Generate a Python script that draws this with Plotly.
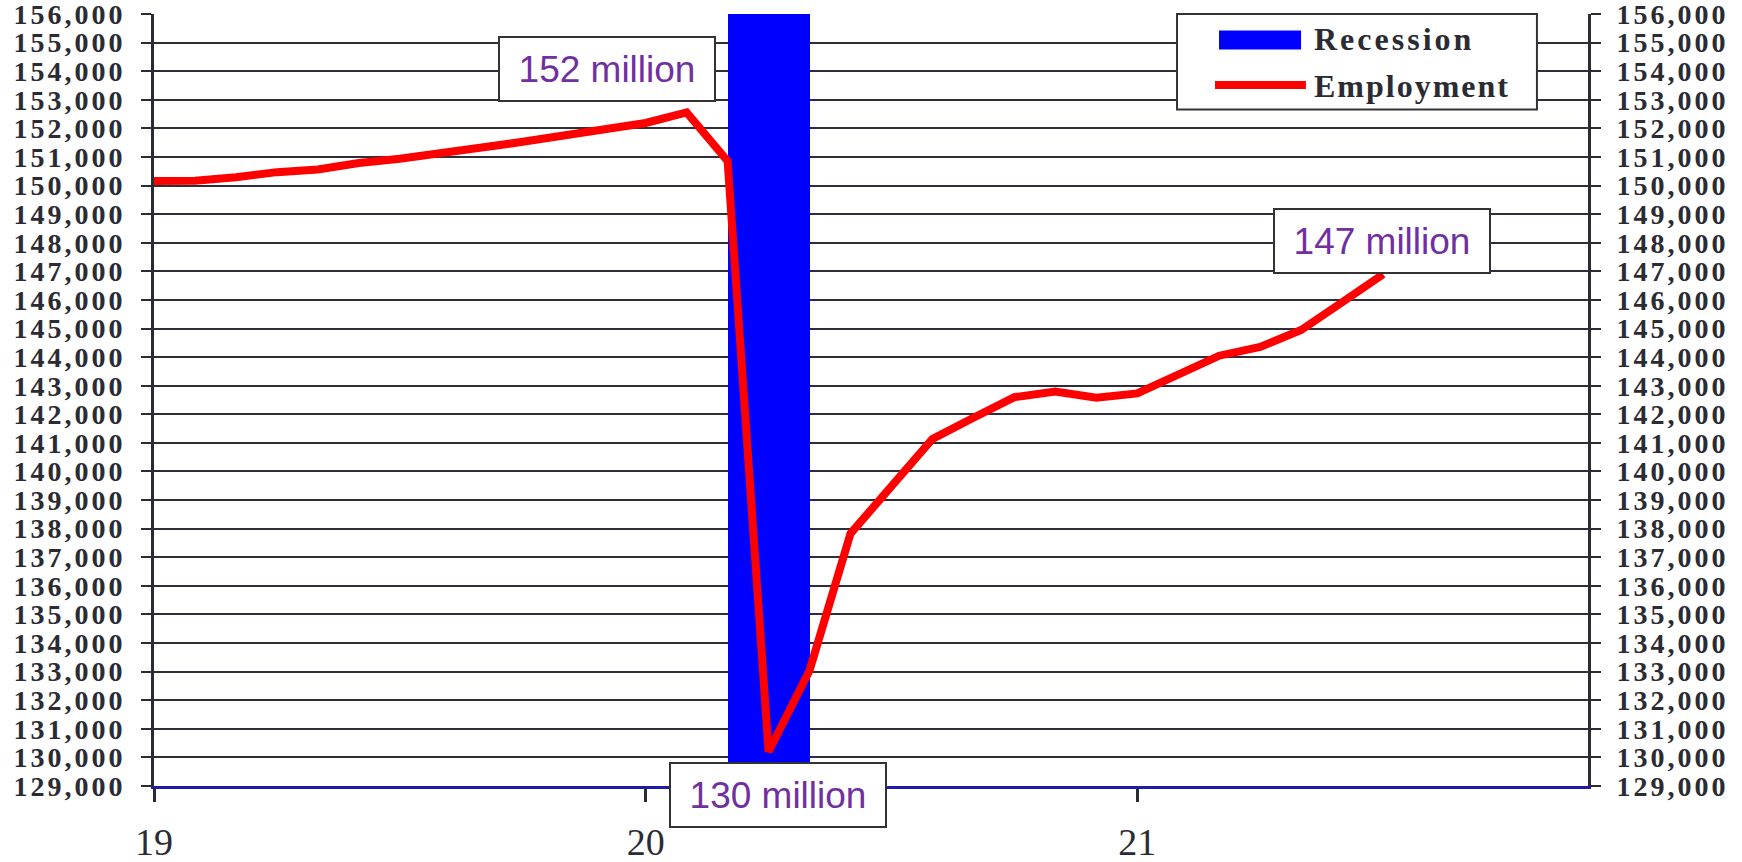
import plotly.graph_objects as go

# ---- data (thousands of jobs) ----
months = ["2019-01", "2019-02", "2019-03", "2019-04", "2019-05", "2019-06", "2019-07", "2019-08",
          "2019-09", "2019-10", "2019-11", "2019-12", "2020-01", "2020-02", "2020-03", "2020-04",
          "2020-05", "2020-06", "2020-07", "2020-08", "2020-09", "2020-10", "2020-11", "2020-12",
          "2021-01", "2021-02", "2021-03", "2021-04", "2021-05", "2021-06", "2021-07"]
employment = [150160, 150170, 150290, 150470, 150560, 150790, 150940, 151110,
              151330, 151530, 151760, 151990, 152190, 152560, 150860, 130200,
              133040, 137830, 139500, 141140, 141880, 142600, 142800, 142580,
              142730, 143400, 144050, 144360, 144950, 145920, 146900]
recession_start = "2020-03"
recession_end = "2020-05"
y_min, y_max = 129000, 156000
x_ticks = [19, 20, 21]
x_tick_labels = ["19", "20", "21"]
label_text = ["152 million", "130 million", "147 million"]
label_x = [19.922, 20.269, 21.498]
label_y = [154090, 129830, 148070]


def to_x(m):
    y, mo = m.split("-")
    return int(y) - 2000 + (int(mo) - 1) / 12


x = [to_x(m) for m in months]
rs, re_ = to_x(recession_start), to_x(recession_end)
x_end = 21 + 11 / 12

y_ticks = list(range(y_min, y_max + 1, 1000))
tick_txt = ["<span style='letter-spacing:3px'>{:,}</span>".format(v) for v in y_ticks]

serif = "Liberation Serif"
dark = "#2b2b33"
purple = "#7030a0"

fig = go.Figure()
fig.add_trace(go.Bar(x=[(rs + re_) / 2], y=[y_max - y_min], base=[y_min], width=[re_ - rs],
                     marker=dict(color="#0000ff", line=dict(width=0)), name="Recession",
                     showlegend=False, hoverinfo="skip"))
fig.add_trace(go.Scatter(x=x, y=employment, mode="lines", line=dict(color="#ff0000", width=8),
                         name="Employment", showlegend=False))
fig.add_trace(go.Scatter(x=x, y=employment, mode="lines", line=dict(width=0), opacity=0,
                         yaxis="y2", showlegend=False, hoverinfo="skip"))

yax = dict(range=[y_min, y_max + 1], tickvals=y_ticks, ticktext=tick_txt, ticks="outside", ticklen=10,
           tickwidth=2, tickcolor=dark, showline=True, linewidth=3, linecolor=dark, automargin=False,
           ticklabeloverflow="allow",
           tickfont=dict(family=serif, size=28, color=dark, weight="bold"), ticklabelstandoff=10)

fig.update_layout(
    width=1742, height=862,
    margin=dict(l=154, r=154, t=14, b=76),
    plot_bgcolor="white", paper_bgcolor="white",
    bargap=0,
    xaxis=dict(range=[19, x_end], tickvals=x_ticks, ticktext=x_tick_labels, ticks="outside", ticklen=13,
               tickwidth=3, tickcolor=dark, showgrid=False, zeroline=False, showline=True,
               linewidth=3, linecolor="#1c1ca8", automargin=False, ticklabeloverflow="allow",
               tickfont=dict(family=serif, size=38, color=dark), ticklabelstandoff=7),
    yaxis=dict(**yax, showgrid=True, gridcolor="#2e2e38", gridwidth=2, zeroline=False),
    yaxis2=dict(**yax, overlaying="y", side="right", showgrid=False, zeroline=False),
)

# data labels
for txt, lx, ly in zip(label_text, label_x, label_y):
    fig.add_annotation(x=lx, y=ly, xref="x", yref="y", text=txt, showarrow=False,
                       font=dict(family="Liberation Sans", size=37, color=purple),
                       bgcolor="white", bordercolor="#333333", borderwidth=2,
                       width=210, height=58, borderpad=2,
                       yanchor="top" if txt.startswith("130") else "middle")

# manual legend
fig.add_shape(type="rect", xref="paper", yref="paper", x0=0.7134, x1=0.9644, y0=0.8762, y1=1.0,
              fillcolor="white", line=dict(color="#333333", width=2), layer="above")
fig.add_shape(type="rect", xref="paper", yref="paper", x0=0.7427, x1=0.7999, y0=0.954, y1=0.9786,
              fillcolor="#0000ff", line=dict(width=0), layer="above")
fig.add_shape(type="line", xref="paper", yref="paper", x0=0.7399, x1=0.8033, y0=0.9079, y1=0.9079,
              line=dict(color="#ff0000", width=8), layer="above")
for txt, yy, sp in [("Recession", 0.9673, 3), ("Employment", 0.9065, 2)]:
    fig.add_annotation(x=0.8075, y=yy, xref="paper", yref="paper", xanchor="left", yanchor="middle",
                       text="<span style='letter-spacing:%dpx'>%s</span>" % (sp, txt), showarrow=False,
                       font=dict(family=serif, size=32, color=dark, weight="bold"))

fig.write_html("out.html", config={"displayModeBar": False},
               post_script="document.body.style.margin='0';document.body.style.overflow='hidden';")
